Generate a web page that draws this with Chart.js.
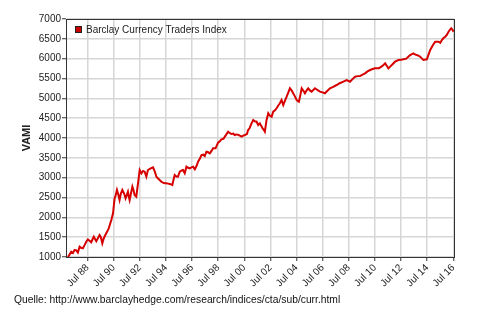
<!DOCTYPE html>
<html>
<head>
<meta charset="utf-8">
<script src="https://cdn.jsdelivr.net/npm/chart.js@4"></script>
<style>
  body { margin: 0; background: #fff; }
  #wrap { position: relative; width: 500px; height: 317px; }
  #source {
    position: absolute; left: 14px; top: 294px;
    font: 10.3px "Liberation Sans", Arial, sans-serif; color: #111;
  }
</style>
</head>
<body>
<div id="wrap">
  <canvas id="vamiChart" width="500" height="317"></canvas>
  <div id="source">Quelle: http://www.barclayhedge.com/research/indices/cta/sub/curr.html</div>
</div>
<script>
// Barclay Currency Traders Index, VAMI
const years = [
  1987.00, 1987.12, 1987.25, 1987.38, 1987.50, 1987.62, 1987.76, 1987.89, 1988.02, 1988.14,
  1988.27, 1988.40, 1988.52, 1988.65, 1988.78, 1988.90, 1988.98, 1989.08, 1989.17, 1989.30,
  1989.42, 1989.52, 1989.63, 1989.75, 1989.93, 1990.10, 1990.32, 1990.45, 1990.57, 1990.65,
  1990.75, 1990.85, 1990.95, 1991.05, 1991.16, 1991.30, 1991.41, 1991.50, 1991.59, 1991.66,
  1991.72, 1991.82, 1991.93, 1992.02, 1992.10, 1992.23, 1992.38, 1992.49, 1992.62, 1992.75,
  1992.87, 1993.00, 1993.12, 1993.30, 1993.51, 1993.65, 1993.77, 1993.90, 1994.02, 1994.15,
  1994.27, 1994.40, 1994.54, 1994.67, 1994.79, 1994.90, 1994.99, 1995.08, 1995.17, 1995.30,
  1995.42, 1995.56, 1995.70, 1995.81, 1995.94, 1996.07, 1996.20, 1996.32, 1996.45, 1996.58,
  1996.71, 1996.85, 1996.96, 1997.10, 1997.22, 1997.35, 1997.47, 1997.60, 1997.73, 1997.86,
  1998.00, 1998.11, 1998.30, 1998.49, 1998.62, 1998.75, 1998.90, 1999.10, 1999.26, 1999.40,
  1999.52, 1999.65, 1999.77, 1999.90, 2000.05, 2000.29, 2000.42, 2000.54, 2000.70, 2000.79,
  2000.90, 2001.05, 2001.18, 2001.30, 2001.44, 2001.56, 2001.69, 2001.80, 2001.90, 2002.00,
  2002.07, 2002.20, 2002.33, 2002.46, 2002.59, 2002.71, 2002.85, 2002.97, 2003.10, 2003.22,
  2003.35, 2003.48, 2003.62, 2003.74, 2003.87, 2003.99, 2004.12, 2004.24, 2004.37, 2004.50,
  2004.60, 2004.68, 2004.80, 2004.89, 2005.02, 2005.14, 2005.27, 2005.39, 2005.52, 2005.65,
  2005.78, 2005.91, 2006.10, 2006.29, 2006.48, 2006.67, 2006.86, 2007.06, 2007.30, 2007.57,
  2007.80, 2008.08, 2008.34, 2008.59, 2008.80, 2008.98, 2009.17, 2009.36, 2009.55, 2009.74,
  2009.93, 2010.13, 2010.32, 2010.51, 2010.80, 2011.00, 2011.15, 2011.28, 2011.40, 2011.53,
  2011.66, 2011.79, 2012.04, 2012.30, 2012.50, 2012.68, 2012.90, 2013.05, 2013.19, 2013.45,
  2013.60, 2013.80, 2013.96, 2014.10, 2014.21, 2014.47, 2014.60, 2014.73, 2014.92, 2015.11,
  2015.36, 2015.50, 2015.62, 2015.75, 2015.88, 2016.00, 2016.13, 2016.25, 2016.34, 2016.45,
  2016.51
];
const vami = [
  1000, 1060, 1134, 1100, 1176, 1170, 1110, 1260, 1230, 1220,
  1300, 1386, 1445, 1410, 1370, 1460, 1512, 1450, 1400, 1480,
  1555, 1500, 1345, 1480, 1597, 1700, 1933, 2100, 2480, 2550,
  2690, 2580, 2437, 2600, 2690, 2600, 2480, 2560, 2646, 2520,
  2437, 2600, 2772, 2680, 2563, 2520, 2900, 3193, 3110, 3170,
  3150, 3024, 3193, 3230, 3260, 3150, 3024, 2980, 2940, 2900,
  2873, 2860, 2857, 2850, 2840, 2830, 2815, 2950, 3067, 3030,
  3024, 3150, 3180, 3193, 3110, 3277, 3250, 3235, 3260, 3277,
  3210, 3300, 3403, 3480, 3571, 3580, 3546, 3655, 3640, 3614,
  3680, 3740, 3740, 3882, 3920, 3966, 3980, 4080, 4159, 4120,
  4100, 4110, 4075, 4090, 4080, 4033, 4060, 4075, 4100, 4200,
  4244, 4370, 4454, 4420, 4411, 4328, 4370, 4300, 4244, 4200,
  4159, 4450, 4623, 4560, 4537, 4663, 4700, 4749, 4820, 4875,
  4958, 4832, 4950, 5041, 5150, 5253, 5200, 5127, 5050, 4958,
  4930, 4915, 5100, 5253, 5190, 5127, 5200, 5253, 5200, 5168,
  5210, 5253, 5210, 5168, 5150, 5127, 5190, 5253, 5290, 5336,
  5380, 5420, 5462, 5420, 5490, 5546, 5560, 5563, 5600, 5630,
  5680, 5714, 5740, 5756, 5760, 5800, 5840, 5882, 5820, 5756,
  5800, 5840, 5924, 5966, 5975, 5983, 6000, 6050, 6092, 6135,
  6100, 6080, 6050, 6000, 5966, 5983, 6100, 6218, 6330, 6428,
  6428, 6400, 6470, 6520, 6554, 6600, 6680, 6730, 6764, 6720,
  6680
];
const tickYears = [1988.5, 1990.5, 1992.5, 1994.5, 1996.5, 1998.5, 2000.5, 2002.5,
  2004.5, 2006.5, 2008.5, 2010.5, 2012.5, 2014.5, 2016.5];
const tickLabels = ["Jul 88", "Jul 90", "Jul 92", "Jul 94", "Jul 96", "Jul 98", "Jul 00", "Jul 02",
  "Jul 04", "Jul 06", "Jul 08", "Jul 10", "Jul 12", "Jul 14", "Jul 16"];

Chart.defaults.font.family = '"Liberation Sans", Arial, sans-serif';
Chart.defaults.font.size = 10;
Chart.defaults.color = '#222';

// plot frame plus the small legend inside the top-left corner
const frame = {
  id: 'frame',
  afterDraw(chart) {
    const a = chart.chartArea, ctx = chart.ctx;
    const ds = chart.data.datasets[0];
    ctx.save();
    ctx.strokeStyle = '#333';
    ctx.lineWidth = 1;
    ctx.strokeRect(a.left + 0.5, a.top + 0.5, a.right - a.left, a.bottom - a.top);

    ctx.fillStyle = 'rgb(204, 0, 0)';
    ctx.fillRect(a.left + 9, a.top + 7, 7, 7);
    ctx.strokeStyle = '#222';
    ctx.strokeRect(a.left + 9.5, a.top + 7.5, 6, 6);
    ctx.fillStyle = '#222';
    ctx.font = '10px "Liberation Sans", Arial, sans-serif';
    ctx.textBaseline = 'middle';
    ctx.fillText(ds.label, a.left + 20, a.top + 11);
    ctx.restore();
  }
};

new Chart(document.getElementById('vamiChart'), {
  type: 'line',
  data: {
    datasets: [{
      label: 'Barclay Currency Traders Index',
      data: years.map((y, i) => ({ x: y, y: vami[i] })),
      borderColor: 'rgb(214, 0, 0)',
      borderWidth: 2,
      pointRadius: 0,
      tension: 0
    }]
  },
  options: {
    responsive: false,
    animation: false,
    layout: { padding: { left: 0, top: 19, right: 46, bottom: 0 } },
    plugins: {
      legend: { display: false },
      tooltip: { enabled: false }
    },
    scales: {
      x: {
        type: 'linear',
        min: 1986.85,
        max: 2016.55,
        afterBuildTicks: s => { s.ticks = tickYears.map(v => ({ value: v })); },
        afterFit: s => { s.height = 60; },
        ticks: {
          minRotation: 45, maxRotation: 45, padding: 1,
          callback: (v) => tickLabels[tickYears.indexOf(v)]
        },
        grid: { color: '#d6d6d6', lineWidth: 1.5, tickLength: 4, tickColor: '#333', tickWidth: 1 },
        border: { color: '#333', width: 1 }
      },
      y: {
        min: 1000,
        max: 7000,
        afterFit: s => { s.width = 66; },
        ticks: { stepSize: 500, padding: 1, callback: v => String(v) },
        title: {
          display: true, text: 'VAMI',
          font: { size: 11, weight: 'bold' },
          padding: { top: 20, bottom: 0 }
        },
        grid: { color: '#d6d6d6', lineWidth: 1.5, tickLength: 4, tickColor: '#333', tickWidth: 1 },
        border: { color: '#333', width: 1 }
      }
    }
  },
  plugins: [frame]
});
</script>
</body>
</html>
